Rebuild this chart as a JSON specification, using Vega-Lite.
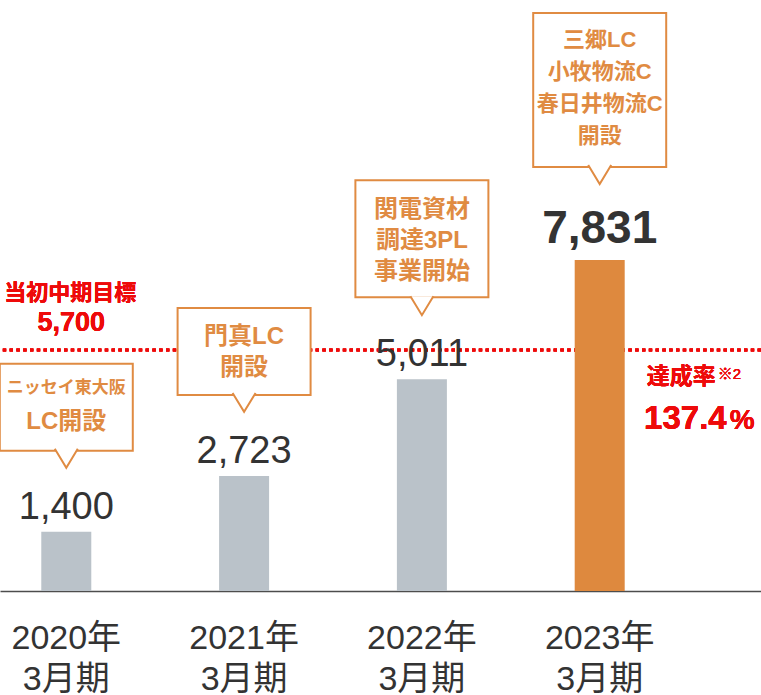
{
  "$schema": "https://vega.github.io/schema/vega-lite/v6.json",
  "width": 761,
  "height": 591,
  "autosize": {"type": "none"},
  "padding": {"left": 0, "top": 0, "right": 0, "bottom": 104},
  "background": "white",
  "config": {"view": {"stroke": null}, "font": "Liberation Sans, Noto Sans CJK JP"},
  "data": {
    "values": [
      {"period": "2020年 3月期", "value": 1400, "note": ["ニッセイ東大阪", "LC開設"]},
      {"period": "2021年 3月期", "value": 2723, "note": ["門真LC", "開設"]},
      {"period": "2022年 3月期", "value": 5011, "note": ["関電資材", "調達3PL", "事業開始"]},
      {"period": "2023年 3月期", "value": 7831, "note": ["三郷LC", "小牧物流C", "春日井物流C", "開設"]}
    ]
  },
  "layer": [
    {
      "mark": {"type": "rule", "color": "#ee0a0a", "strokeWidth": 3, "strokeDash": [3.4, 3.4]},
      "encoding": {"y": {"datum": 5700, "type": "quantitative", "scale": {"domain": [0, 13982], "nice": false}, "axis": null}}
    },
    {
      "mark": {"type": "bar", "width": 50},
      "encoding": {
        "x": {
          "field": "period", "type": "nominal", "sort": null,
          "scale": {"paddingInner": 0.7188, "paddingOuter": 0.4994, "align": 0.2325},
          "axis": {
            "title": null, "labelAngle": 0, "domainColor": "#4d4d4d", "domainWidth": 1.5,
            "ticks": false, "tickSize": 0, "labelPadding": 30, "labelFontSize": 34,
            "labelColor": "#333333", "labelFont": "Liberation Sans, Noto Sans CJK JP", "labelFontWeight": "normal",
            "labelLineHeight": 41, "labelExpr": "split(datum.label, ' ')", "labelBaseline": "top"
          }
        },
        "y": {"field": "value", "type": "quantitative", "axis": null},
        "color": {
          "condition": {"test": "datum.period === '2023年 3月期'", "value": "#de893e"},
          "value": "#bac2c9"
        }
      }
    },
    {
      "transform": [{"filter": "datum.period !== '2023年 3月期'"}],
      "mark": {"type": "text", "font": "Liberation Sans", "fontSize": 38, "color": "#333333", "baseline": "alphabetic", "dy": -13},
      "encoding": {
        "x": {"field": "period", "type": "nominal", "sort": null},
        "y": {"field": "value", "type": "quantitative", "axis": null},
        "text": {"field": "value", "type": "quantitative", "format": ","}
      }
    },
    {
      "transform": [{"filter": "datum.period === '2023年 3月期'"}],
      "mark": {"type": "text", "font": "Liberation Sans", "fontSize": 46, "fontWeight": "bold", "color": "#333333", "baseline": "alphabetic", "dy": -17},
      "encoding": {
        "x": {"field": "period", "type": "nominal", "sort": null},
        "y": {"field": "value", "type": "quantitative", "axis": null},
        "text": {"field": "value", "type": "quantitative", "format": ","}
      }
    },
    {
      "transform": [{"filter": "length(datum.note) == 2"}],
      "mark": {"type": "bar", "width": 133, "fill": "white", "stroke": "#e08b42", "strokeWidth": 2, "yOffset": -81, "y2Offset": -168},
      "encoding": {
        "x": {"field": "period", "type": "nominal", "sort": null},
        "y": {"field": "value", "type": "quantitative", "axis": null},
        "y2": {"field": "value"}
      }
    },
    {
      "transform": [{"filter": "length(datum.note) == 3"}],
      "mark": {"type": "bar", "width": 133, "fill": "white", "stroke": "#e08b42", "strokeWidth": 2, "yOffset": -82, "y2Offset": -199},
      "encoding": {
        "x": {"field": "period", "type": "nominal", "sort": null},
        "y": {"field": "value", "type": "quantitative", "axis": null},
        "y2": {"field": "value"}
      }
    },
    {
      "transform": [{"filter": "length(datum.note) == 4"}],
      "mark": {"type": "bar", "width": 133, "fill": "white", "stroke": "#e08b42", "strokeWidth": 2, "yOffset": -93, "y2Offset": -247},
      "encoding": {
        "x": {"field": "period", "type": "nominal", "sort": null},
        "y": {"field": "value", "type": "quantitative", "axis": null},
        "y2": {"field": "value"}
      }
    },
    {
      "transform": [{"filter": "length(datum.note) < 4"}],
      "mark": {"type": "point", "shape": "M -1 -1 L 0 0.65 L 1 -1", "size": 529, "filled": true, "fill": "white", "stroke": "#e08b42", "strokeWidth": 2, "opacity": 1, "fillOpacity": 1, "strokeOpacity": 1, "yOffset": -71.5},
      "encoding": {
        "x": {"field": "period", "type": "nominal", "sort": null},
        "y": {"field": "value", "type": "quantitative", "axis": null}
      }
    },
    {
      "transform": [{"filter": "length(datum.note) == 4"}],
      "mark": {"type": "point", "shape": "M -1 -1 L 0 0.65 L 1 -1", "size": 529, "filled": true, "fill": "white", "stroke": "#e08b42", "strokeWidth": 2, "opacity": 1, "fillOpacity": 1, "strokeOpacity": 1, "yOffset": -83.5},
      "encoding": {
        "x": {"field": "period", "type": "nominal", "sort": null},
        "y": {"field": "value", "type": "quantitative", "axis": null}
      }
    },
    {
      "transform": [{"filter": "datum.period === '2020年 3月期'"}, {"calculate": "datum.note[0]", "as": "line1"}],
      "mark": {"type": "text", "fontSize": 17, "fontWeight": "bold", "color": "#e08b42", "baseline": "middle", "dy": -144},
      "encoding": {
        "x": {"field": "period", "type": "nominal", "sort": null},
        "y": {"field": "value", "type": "quantitative", "axis": null},
        "text": {"field": "line1"}
      }
    },
    {
      "transform": [{"filter": "datum.period === '2020年 3月期'"}, {"calculate": "datum.note[1]", "as": "line2"}],
      "mark": {"type": "text", "fontSize": 24, "fontWeight": "bold", "color": "#e08b42", "baseline": "middle", "dy": -110},
      "encoding": {
        "x": {"field": "period", "type": "nominal", "sort": null},
        "y": {"field": "value", "type": "quantitative", "axis": null},
        "text": {"field": "line2"}
      }
    },
    {
      "transform": [{"filter": "datum.period === '2021年 3月期'"}],
      "mark": {"type": "text", "fontSize": 24, "fontWeight": "bold", "color": "#e08b42", "baseline": "middle", "lineHeight": 31, "dy": -139},
      "encoding": {
        "x": {"field": "period", "type": "nominal", "sort": null},
        "y": {"field": "value", "type": "quantitative", "axis": null},
        "text": {"field": "note"}
      }
    },
    {
      "transform": [{"filter": "length(datum.note) == 3"}],
      "mark": {"type": "text", "fontSize": 24, "fontWeight": "bold", "color": "#e08b42", "baseline": "middle", "lineHeight": 31, "dy": -169},
      "encoding": {
        "x": {"field": "period", "type": "nominal", "sort": null},
        "y": {"field": "value", "type": "quantitative", "axis": null},
        "text": {"field": "note"}
      }
    },
    {
      "transform": [{"filter": "length(datum.note) == 4"}],
      "mark": {"type": "text", "fontSize": 22, "fontWeight": "bold", "color": "#e08b42", "baseline": "middle", "lineHeight": 32, "dy": -220},
      "encoding": {
        "x": {"field": "period", "type": "nominal", "sort": null},
        "y": {"field": "value", "type": "quantitative", "axis": null},
        "text": {"field": "note"}
      }
    },
    {
      "mark": {"type": "text", "fontSize": 22, "fontWeight": "bold", "color": "#ee0a0a", "baseline": "middle", "dx": 4, "dy": -57},
      "encoding": {
        "x": {"datum": "2020年 3月期", "type": "nominal"},
        "y": {"datum": 5700, "type": "quantitative", "axis": null},
        "text": {"value": "当初中期目標"}
      }
    },
    {
      "mark": {"type": "text", "font": "Liberation Sans", "fontSize": 27, "fontWeight": "bold", "color": "#ee0a0a", "baseline": "middle", "dx": 5, "dy": -27},
      "encoding": {
        "x": {"datum": "2020年 3月期", "type": "nominal"},
        "y": {"datum": 5700, "type": "quantitative", "axis": null},
        "text": {"datum": 5700, "format": ","}
      }
    },
    {
      "mark": {"type": "text", "fontSize": 23, "fontWeight": "bold", "color": "#ee0a0a", "baseline": "middle", "align": "left", "dx": 47, "dy": 27},
      "encoding": {
        "x": {"datum": "2023年 3月期", "type": "nominal"},
        "y": {"datum": 5700, "type": "quantitative", "axis": null},
        "text": {"value": "達成率"}
      }
    },
    {
      "mark": {"type": "text", "fontSize": 15, "fontWeight": "normal", "color": "#ee0a0a", "baseline": "middle", "align": "left", "dx": 118, "dy": 24},
      "encoding": {
        "x": {"datum": "2023年 3月期", "type": "nominal"},
        "y": {"datum": 5700, "type": "quantitative", "axis": null},
        "text": {"value": "※2"}
      }
    },
    {
      "mark": {"type": "text", "font": "Liberation Sans", "fontSize": 33, "fontWeight": "bold", "color": "#ee0a0a", "baseline": "alphabetic", "align": "right", "dx": 127, "dy": 79},
      "encoding": {
        "x": {"datum": "2023年 3月期", "type": "nominal"},
        "y": {"datum": 5700, "type": "quantitative", "axis": null},
        "text": {"value": "137.4"}
      }
    },
    {
      "mark": {"type": "text", "font": "Liberation Sans", "fontSize": 28, "fontWeight": "bold", "color": "#ee0a0a", "baseline": "alphabetic", "align": "left", "dx": 130, "dy": 79},
      "encoding": {
        "x": {"datum": "2023年 3月期", "type": "nominal"},
        "y": {"datum": 5700, "type": "quantitative", "axis": null},
        "text": {"value": "%"}
      }
    }
  ]
}
